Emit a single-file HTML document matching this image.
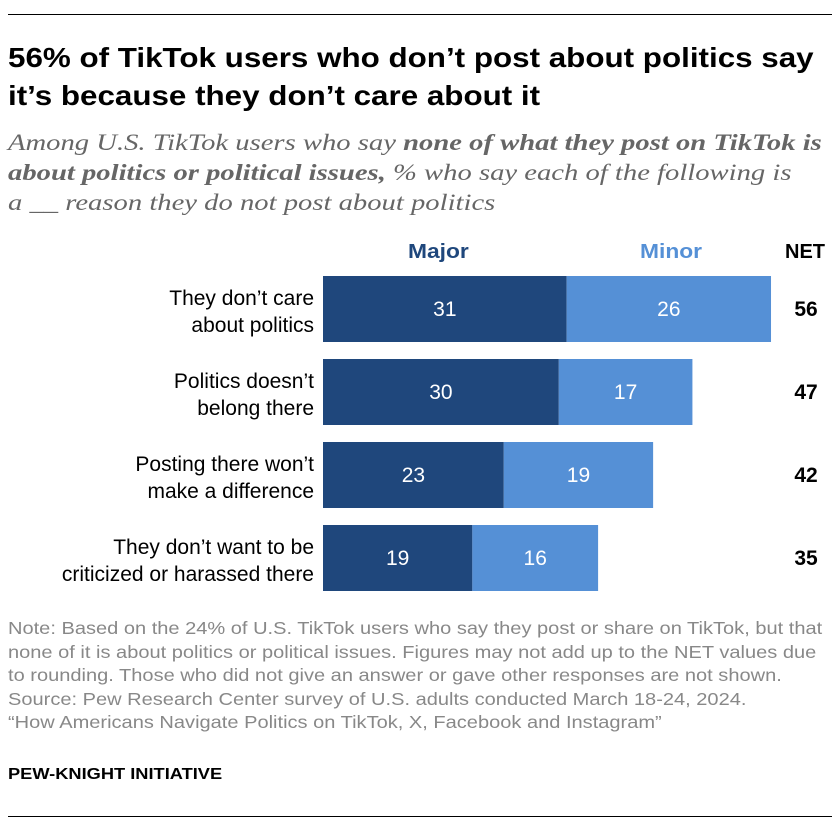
<!DOCTYPE html>
<html><head><meta charset="utf-8">
<style>
body{margin:0;background:#fff;font-family:"Liberation Sans",Arial,sans-serif;}
#wrap{position:relative;width:840px;height:832px;overflow:hidden;}
.rule{position:absolute;left:8px;width:824px;height:1px;background:#000;}
.t{position:absolute;white-space:nowrap;transform-origin:0 0;}
</style></head><body>
<div id="wrap">
<div class="rule" style="top:14px"></div>
<div class="t" style="left:8px;top:39px;font-size:28px;font-weight:bold;line-height:38px;color:#000;transform:scaleX(1.12)">56% of TikTok users who don’t post about politics say<br>it’s because they don’t care about it</div>
<div class="t" style="left:8px;top:128px;font-family:'Liberation Serif',serif;font-style:italic;font-size:23px;line-height:30px;color:#666;transform:scaleX(1.245)">Among U.S. TikTok users who say <b>none of what they post on TikTok is</b><br><b>about politics or political issues,</b> % who say each of the following is<br>a __ reason they do not post about politics</div>
<div class="t" style="left:408px;top:241px;font-size:20px;font-weight:bold;color:#1f477c;transform:scaleX(1.14)">Major</div>
<div class="t" style="left:640px;top:241px;font-size:20px;font-weight:bold;color:#5590d6;transform:scaleX(1.14)">Minor</div>
<div class="t" style="left:785px;top:241px;font-size:20px;font-weight:bold;color:#000">NET</div>
<svg id="chart" class="t" style="left:0;top:0" width="840" height="832"></svg>
<div class="t" style="left:8px;top:617px;font-size:17.5px;line-height:23.5px;color:#888;transform:scaleX(1.145)">Note: Based on the 24% of U.S. TikTok users who say they post or share on TikTok, but that<br>none of it is about politics or political issues. Figures may not add up to the NET values due<br>to rounding. Those who did not give an answer or gave other responses are not shown.<br>Source: Pew Research Center survey of U.S. adults conducted March 18-24, 2024.<br>“How Americans Navigate Politics on TikTok, X, Facebook and Instagram”</div>
<div class="t" style="left:8px;top:766px;font-size:16px;font-weight:bold;color:#000;transform:scaleX(1.14)">PEW-KNIGHT INITIATIVE</div>
<div class="rule" style="top:816px"></div>
</div>
<script>
const categories=[["They don’t care","about politics"],["Politics doesn’t","belong there"],["Posting there won’t","make a difference"],["They don’t want to be","criticized or harassed there"]];
const major=[31,30,23,19];
const minor=[26,17,19,16];
const net=[56,47,42,35];
const svg=document.getElementById('chart');
const NS='http://www.w3.org/2000/svg';
const x0=323,scale=7.86,top0=276,pitch=83,bh=66;
const xs=v=>v*scale;
function mk(tag,attrs){const e=document.createElementNS(NS,tag);for(const k in attrs)e.setAttribute(k,attrs[k]);svg.appendChild(e);return e;}
categories.forEach((c,i)=>{
 const y=top0+i*pitch;
 const r1=mk('rect',{x:x0,y:y,width:xs(major[i]),height:bh,fill:'#1f477c'});
 
 
 const r2=mk('rect',{x:x0+xs(major[i]),y:y,width:xs(minor[i]),height:bh,fill:'#5590d6'});
 
 
 const fs='font-family:Liberation Sans,Arial,sans-serif;font-size:21px;';
 const t1=mk('text',{x:x0+xs(major[i])/2,y:y+bh/2+7,'text-anchor':'middle',fill:'#fff',style:fs});t1.textContent=major[i];
 
 
 const t2=mk('text',{x:x0+xs(major[i])+xs(minor[i])/2,y:y+bh/2+7,'text-anchor':'middle',fill:'#fff',style:fs});t2.textContent=minor[i];
 
 
 const t3=mk('text',{x:806,y:y+bh/2+7,'text-anchor':'middle',fill:'#000',style:fs+'font-weight:bold'});t3.textContent=net[i];
 
 
 c.forEach((line,j)=>{
  const l=mk('text',{x:314,y:y+bh/2-4+j*27,'text-anchor':'end',fill:'#000',style:fs});l.textContent=line;
  
  
 });
});
</script>
</body></html>
